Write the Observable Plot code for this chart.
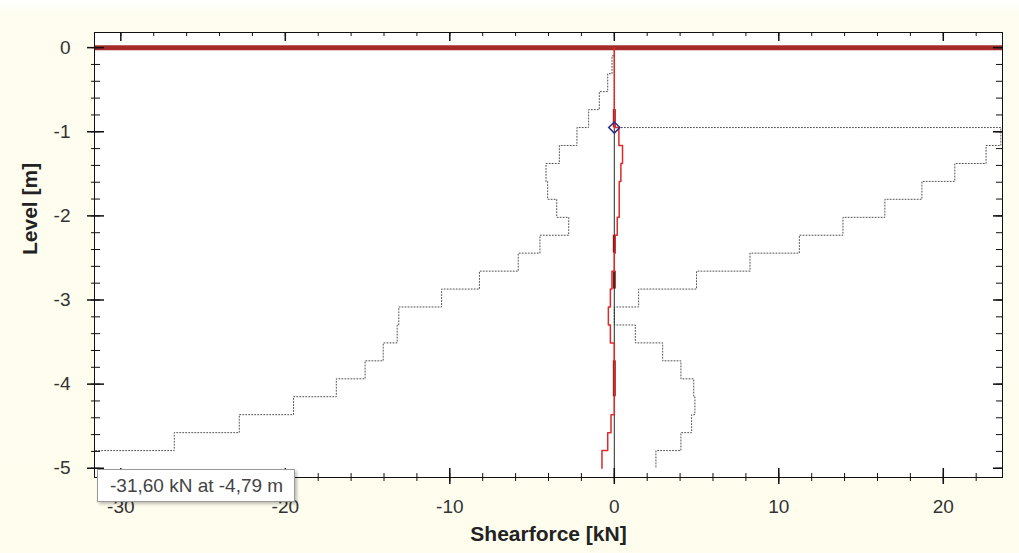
<!DOCTYPE html>
<html><head><meta charset="utf-8">
<script src="https://cdn.jsdelivr.net/npm/d3@7"></script>
<script src="https://cdn.jsdelivr.net/npm/@observablehq/plot@0.6"></script>
<style>
html,body{margin:0;padding:0;}
body{width:1019px;height:553px;background:linear-gradient(to bottom,#ffffff 0px,#fefdef 16px,#fefdee 100%);overflow:hidden;}
#wrap{position:relative;width:1019px;height:553px;}
#tip{position:absolute;background:#fff;border:1px solid #9a9a9a;box-shadow:2px 2px 3px rgba(0,0,0,0.25);font:19px "Liberation Sans",Arial,sans-serif;color:#444;padding:0 11px 0 12px;height:33px;line-height:31px;white-space:nowrap;box-sizing:border-box;}
</style></head><body><div id="wrap"></div>
<script>
// Segment boundaries (level, m) – each value below applies between levels[i] and levels[i+1]
const levels = [0, -0.097, -0.31, -0.523, -0.737, -0.95, -1.163, -1.377, -1.59, -1.803, -2.017, -2.23, -2.443, -2.657, -2.87, -3.083, -3.297, -3.51, -3.723, -3.937, -4.15, -4.363, -4.577, -4.79, -5.0];
// Minimum envelope (kN)
const minShear = [0, -0.14, -0.4, -0.91, -1.56, -2.27, -3.34, -4.15, -4.05, -3.5, -2.77, -4.52, -5.84, -8.2, -10.5, -13.1, -13.2, -14.05, -15.15, -16.9, -19.5, -22.8, -26.75, -31.6];
// Maximum envelope (kN)
const maxShear = [0, 0, 0, 0, 0, 23.5, 22.6, 20.7, 18.7, 16.45, 13.9, 11.25, 8.25, 5.0, 1.48, 0, 1.28, 2.94, 4.05, 4.83, 4.9, 4.7, 4.05, 2.53];
// Actual shear force (kN)
const shear = [0, 0, 0, 0, 0, 0.28, 0.5, 0.4, 0.3, 0.3, 0.18, 0.05, 0, -0.14, -0.24, -0.36, -0.24, 0, 0, 0, 0, -0.2, -0.4, -0.75];
// Dark-red overlay intervals on the zero line [from, to] (m)
const darkIntervals = [[-0.737, -0.95], [-2.23, -2.443], [-2.657, -2.87], [-3.723, -4.15]];
// Support level marker
const markerLevel = -0.95;
const blackLineFrom = -0.95;
// Tooltip
const tipValue = -31.6, tipLevel = -4.79;

const xDomain = [-31.6, 23.6];
const yDomain = [-5.11, 0.18];
const xMajor = [-30, -20, -10, 0, 10, 20];
const xMinor = [-30,-28,-26,-24,-22,-20,-18,-16,-14,-12,-10,-8,-6,-4,-2,0,2,4,6,8,10,12,14,16,18,20,22];
const yMajor = [0, -1, -2, -3, -4, -5];
const yMinor = [0,-0.2,-0.4,-0.6,-0.8,-1,-1.2,-1.4,-1.6,-1.8,-2,-2.2,-2.4,-2.6,-2.8,-3,-3.2,-3.4,-3.6,-3.8,-4,-4.2,-4.4,-4.6,-4.8,-5];

function steps(vals) {
  const pts = [];
  vals.forEach((v, i) => { pts.push({x: v, y: levels[i]}); pts.push({x: v, y: levels[i + 1]}); });
  return pts;
}
const xMin = xDomain[0], xMax = xDomain[1], yMin = yDomain[0], yMax = yDomain[1];
const font = '"Liberation Sans", Arial, sans-serif';
const dotted = {x: "x", y: "y", stroke: "#505050", strokeWidth: 1, strokeDasharray: "1,2"};

const plot = Plot.plot({
  width: 1019, height: 553,
  marginLeft: 94, marginRight: 17, marginTop: 32, marginBottom: 76,
  x: {domain: xDomain, axis: null},
  y: {domain: yDomain, axis: null},
  style: {background: "transparent", fontFamily: font, overflow: "visible"},
  marks: [
    Plot.frame({fill: "white", stroke: "none"}),
    Plot.line(steps(minShear), dotted),
    Plot.line(steps(maxShear), dotted),
    Plot.ruleY([0], {stroke: "#a52a2a", strokeWidth: 5}),
    Plot.ruleX(darkIntervals, {x: () => 0, y1: d => d[0], y2: d => d[1], stroke: "#8b1a1a", strokeWidth: 3}),
    Plot.ruleX([0], {y1: () => blackLineFrom, y2: () => yMin, stroke: "#2a2a2a", strokeWidth: 1}),
    Plot.line(steps(shear), {x: "x", y: "y", stroke: "#dd2a2a", strokeWidth: 1.5}),
    Plot.dot([{x: 0, y: markerLevel}], {x: "x", y: "y", symbol: "diamond2", r: 5, stroke: "#2b2b80", fill: "none", strokeWidth: 1.5}),
    Plot.frame({stroke: "#111"}),
    // bottom axis ticks
    Plot.ruleX(xMinor, {x: d => d, y1: () => yMin, y2: () => yMin, insetTop: -4, insetBottom: -4, stroke: "#111"}),
    Plot.ruleX(xMajor, {x: d => d, y1: () => yMin, y2: () => yMin, insetTop: -9, insetBottom: -7, stroke: "#111", strokeWidth: 1.5}),
    // top axis ticks (inward)
    Plot.ruleX(xMinor, {x: d => d, y1: () => yMax, y2: () => yMax, insetTop: 0, insetBottom: -4, stroke: "#111"}),
    Plot.ruleX(xMajor, {x: d => d, y1: () => yMax, y2: () => yMax, insetTop: 0, insetBottom: -9, stroke: "#111", strokeWidth: 1.5}),
    // left axis ticks
    Plot.ruleY(yMinor, {y: d => d, x1: () => xMin, x2: () => xMin, insetLeft: -3, insetRight: -6, stroke: "#111"}),
    Plot.ruleY(yMajor, {y: d => d, x1: () => xMin, x2: () => xMin, insetLeft: -7, insetRight: -10, stroke: "#111", strokeWidth: 1.5}),
    // right axis ticks (inward)
    Plot.ruleY(yMinor, {y: d => d, x1: () => xMax, x2: () => xMax, insetLeft: -6, insetRight: 0, stroke: "#111"}),
    Plot.ruleY(yMajor, {y: d => d, x1: () => xMax, x2: () => xMax, insetLeft: -9, insetRight: 0, stroke: "#111", strokeWidth: 1.5}),
    // tick labels
    Plot.text(xMajor, {x: d => d, y: () => yMin, dy: 29, text: d => String(d), fontSize: 19, fill: "#333"}),
    Plot.text(yMajor, {x: () => xMin, y: d => d, dx: -24, text: d => String(d), textAnchor: "end", fontSize: 19, fill: "#333"}),
    // axis titles
    Plot.text(["Shearforce [kN]"], {frameAnchor: "bottom", dy: 63, fontSize: 21, fontWeight: "bold", fill: "#222"}),
    Plot.text(["Level [m]"], {frameAnchor: "left", dx: -64, rotate: -90, fontSize: 21, fontWeight: "bold", fill: "#222"})
  ]
});
const wrap = document.getElementById("wrap");
wrap.appendChild(plot);

const fmt = v => d3.format(".2f")(v).replace(".", ",").replace("\u2212", "-");
const tip = document.createElement("div");
tip.id = "tip";
tip.textContent = `${fmt(tipValue)} kN at ${fmt(tipLevel)} m`;
const xs = plot.scale("x"), ys = plot.scale("y");
tip.style.left = (xs.apply(tipValue) + 3) + "px";
tip.style.top = (ys.apply(-5.0) + 1) + "px";
wrap.appendChild(tip);
</script>
</body></html>
